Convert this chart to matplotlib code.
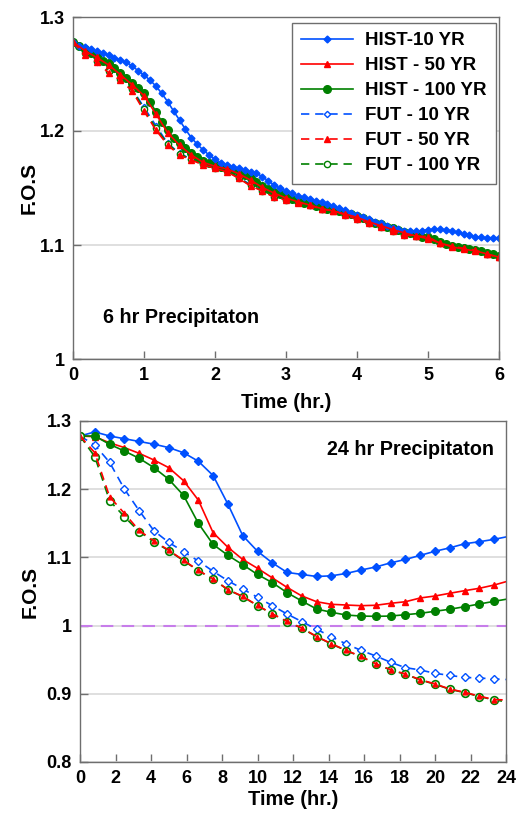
import matplotlib
matplotlib.use("Agg")
import matplotlib.pyplot as plt
import numpy as np
from matplotlib.ticker import FormatStrFormatter, MultipleLocator

plt.rcParams['font.family'] = ['Liberation Sans', 'DejaVu Sans']
plt.rcParams['font.weight'] = 'bold'

BLUE = '#0050ff'
RED = '#ff0000'
GREEN = '#008000'

labels = ['HIST-10 YR', 'HIST - 50 YR', 'HIST - 100 YR',
          'FUT - 10 YR', 'FUT - 50 YR', 'FUT - 100 YR']

# ---- 6 hr precipitation (5 min steps for HIST-10 / HIST-100, 10 min for the rest)
t6_fine = np.arange(73) / 12.0
t6 = np.arange(37) / 6.0

hist10_6 = [1.278, 1.2746, 1.2734, 1.2716, 1.2700, 1.2687, 1.2667, 1.2643, 1.2623, 1.2603,
            1.2570, 1.2529, 1.2491, 1.2447, 1.2395, 1.2330, 1.2257, 1.2175, 1.2096,
            1.2015, 1.1941, 1.1883, 1.1833, 1.1790, 1.1752,
            1.1722, 1.1702, 1.1687, 1.1673, 1.1658, 1.1643, 1.1629, 1.1600, 1.1561, 1.1526,
            1.1497, 1.1474, 1.1453, 1.1433, 1.1418, 1.1404, 1.1389, 1.1374, 1.1360, 1.1342,
            1.1322, 1.1307, 1.1282,
            1.1262, 1.1243, 1.1225, 1.1204, 1.1190, 1.1170, 1.1152, 1.1138, 1.1126, 1.1120,
            1.1123, 1.1126, 1.1132, 1.1138, 1.1138, 1.1132, 1.1123, 1.1111, 1.1096, 1.1085,
            1.1073, 1.1067, 1.1064, 1.1064, 1.1064]
hist100_6 = [1.2783, 1.2746, 1.2716, 1.2687, 1.2658, 1.2617, 1.2594, 1.2550, 1.2512, 1.2468,
             1.2424, 1.2374, 1.2330, 1.2257, 1.2170, 1.2082, 1.2009, 1.1936, 1.1892, 1.1848,
             1.1804, 1.1775, 1.1737, 1.1715, 1.1700,
             1.1688, 1.1676, 1.1658, 1.1638, 1.1614, 1.1585, 1.1550, 1.1518, 1.1489, 1.1468,
             1.1447, 1.1424, 1.1404, 1.1389, 1.1371, 1.1360, 1.1345, 1.1330, 1.1319, 1.1307,
             1.1296, 1.1283, 1.1270,
             1.1254, 1.1234, 1.1213, 1.1196, 1.1181, 1.1160, 1.1146, 1.1132, 1.1117, 1.1102,
             1.1088, 1.1073, 1.1064, 1.1050, 1.1029, 1.1009, 1.0991, 1.0980, 1.0971, 1.0962,
             1.0956, 1.0947, 1.0932, 1.0918, 1.0904]
hist50_6 = [1.278, 1.2705, 1.2645, 1.258, 1.2495, 1.2405, 1.231, 1.215, 1.1985, 1.1875,
            1.179, 1.1725, 1.169, 1.1668, 1.1625, 1.157, 1.1505, 1.1455, 1.1412, 1.138,
            1.135, 1.132, 1.1298, 1.1272, 1.1243, 1.1203, 1.117, 1.1136, 1.1106, 1.1078,
            1.1055, 1.1018, 1.0984, 1.0964, 1.0948, 1.0922, 1.0893]
fut10_6 = [1.278, 1.270, 1.2608, 1.2541, 1.2462, 1.2366, 1.2208, 1.2047, 1.1892, 1.1804,
           1.1752, 1.171, 1.168, 1.165, 1.1595, 1.1528, 1.148, 1.1425, 1.14, 1.1376,
           1.1355, 1.1318, 1.1305, 1.1268, 1.123, 1.1195, 1.1165, 1.1128, 1.1093, 1.1083,
           1.1076, 1.102, 1.0995, 1.0975, 1.096, 1.0922, 1.0895]
fut50_6 = [1.278, 1.2667, 1.2603, 1.2512, 1.2447, 1.2351, 1.2175, 1.2009, 1.1877, 1.1789,
           1.1746, 1.1702, 1.1673, 1.1643, 1.1585, 1.1518, 1.1474, 1.1418, 1.1395, 1.1371,
           1.1351, 1.1313, 1.1301, 1.1263, 1.1225, 1.119, 1.116, 1.1123, 1.1088, 1.1079,
           1.1073, 1.1015, 1.0991, 1.0971, 1.0956, 1.0918, 1.0892]
fut100_6 = [1.278, 1.268, 1.2615, 1.2525, 1.246, 1.2365, 1.219, 1.2025, 1.1888, 1.1798,
            1.1752, 1.1708, 1.1678, 1.1648, 1.159, 1.1522, 1.1478, 1.1422, 1.1398, 1.1374,
            1.1354, 1.1316, 1.1303, 1.1266, 1.1228, 1.1193, 1.1162, 1.1126, 1.109, 1.1081,
            1.1075, 1.1017, 1.0993, 1.0973, 1.0958, 1.092, 1.0894]

# ---- 24 hr precipitation (50 min steps, last value at 24 hr)
t24 = np.append(np.arange(29) * 50 / 60.0, 24.0)

hist10_24 = [1.278, 1.284, 1.278, 1.274, 1.270, 1.266, 1.261, 1.2535, 1.241, 1.220,
             1.178, 1.132, 1.109, 1.092, 1.078, 1.075, 1.072, 1.073, 1.0765, 1.0815,
             1.086, 1.092, 1.097, 1.103, 1.109, 1.114, 1.120, 1.123, 1.1265, 1.130]
hist50_24 = [1.278, 1.277, 1.268, 1.261, 1.2526, 1.2428, 1.2316, 1.2125, 1.184, 1.1362,
             1.1148, 1.097, 1.084, 1.070, 1.056, 1.0434, 1.035, 1.0312, 1.0302, 1.0292,
             1.0298, 1.0327, 1.035, 1.0405, 1.0434, 1.0474, 1.0512, 1.0547, 1.0595, 1.0644]
hist100_24 = [1.278, 1.278, 1.2658, 1.256, 1.2453, 1.2316, 1.2145, 1.191, 1.150, 1.119,
              1.103, 1.0893, 1.075, 1.063, 1.0483, 1.036, 1.0243, 1.0195, 1.0155, 1.014,
              1.0136, 1.014, 1.016, 1.018, 1.021, 1.024, 1.0277, 1.0317, 1.0356, 1.0386]
fut10_24 = [1.278, 1.2648, 1.2394, 1.2003, 1.1685, 1.139, 1.122, 1.1084, 1.0947, 1.0796,
            1.0658, 1.0537, 1.0415, 1.0292, 1.017, 1.0058, 0.9946, 0.9837, 0.973, 0.9637,
            0.9554, 0.9462, 0.9383, 0.935, 0.930, 0.927, 0.924, 0.9232, 0.9217, 0.921]
fut50_24 = [1.278, 1.2535, 1.189, 1.1646, 1.1395, 1.124, 1.1105, 1.0958, 1.081, 1.0684,
            1.0528, 1.0428, 1.0296, 1.0174, 1.0062, 0.9964, 0.984, 0.9734, 0.9636, 0.9548,
            0.9441, 0.9354, 0.929, 0.9207, 0.9145, 0.907, 0.9022, 0.8965, 0.8915, 0.891]
fut100_24 = [1.278, 1.2477, 1.1832, 1.1597, 1.1377, 1.123, 1.1098, 1.0952, 1.0805, 1.0679,
             1.0525, 1.0424, 1.0292, 1.017, 1.0058, 0.996, 0.9837, 0.973, 0.9632, 0.9544,
             0.9437, 0.935, 0.9286, 0.9203, 0.914, 0.9066, 0.9018, 0.896, 0.891, 0.8885]

DASH = (0, (5, 3.5))


def style_axes(ax, xmax, xstep, ymin, xpad, ypad):
    ax.set_xlim(0, xmax)
    ax.set_ylim(ymin, 1.3)
    ax.xaxis.set_major_locator(MultipleLocator(xstep))
    ax.yaxis.set_major_locator(MultipleLocator(0.1))
    ax.yaxis.set_major_formatter(FormatStrFormatter('%g'))
    ax.yaxis.grid(True, color='#d9d9d9', lw=1.2)
    ax.set_axisbelow(True)
    for s in ax.spines.values():
        s.set_color('#6e6e6e')
        s.set_linewidth(1.0)
    ax.tick_params(direction='in', length=6, width=1, color='#6e6e6e',
                   labelsize=13, pad=6)
    for lab in ax.get_xticklabels() + ax.get_yticklabels():
        lab.set_fontweight('bold')
    ax.set_xlabel('Time (hr.)', fontsize=14.5, fontweight='bold', labelpad=xpad)
    ax.set_ylabel('F.O.S', fontsize=15, fontweight='bold', labelpad=ypad)


fig = plt.figure(figsize=(5.19, 8.15), dpi=100)

# top panel
ax1 = fig.add_axes([73 / 519, 1 - 359 / 815, 426 / 519, 342 / 815])
h = {}
h[3] = ax1.plot(t6, fut10_6, color=BLUE, ls=DASH, lw=1.2, marker='D', ms=3.2,
                mfc='white', mec=BLUE, mew=1)[0]
h[5] = ax1.plot(t6, fut100_6, color=GREEN, ls=DASH, lw=1.2, marker='o', ms=4.5,
                mfc='white', mec=GREEN, mew=1)[0]
h[2] = ax1.plot(t6_fine, hist100_6, color=GREEN, lw=1.2, marker='o', ms=5.5)[0]
h[0] = ax1.plot(t6_fine, hist10_6, color=BLUE, lw=1.2, marker='D', ms=3.5)[0]
h[1] = ax1.plot(t6, hist50_6, color=RED, lw=1.2, marker='^', ms=4)[0]
h[4] = ax1.plot(t6, fut50_6, color=RED, ls=DASH, lw=1.2, marker='^', ms=4)[0]
style_axes(ax1, 6, 1, 1.0, 6, 1)
ax1.text(0.07, 0.12, '6 hr Precipitaton', transform=ax1.transAxes,
         fontsize=14.2, fontweight='bold', va='center', ha='left')
leg = ax1.legend([h[i] for i in range(6)], labels, loc='upper right',
                 bbox_to_anchor=(0.992, 0.983), borderaxespad=0, fancybox=False,
                 edgecolor='#6e6e6e', framealpha=1,
                 handlelength=2.8, handletextpad=0.6, labelspacing=0.42,
                 borderpad=0.5, prop={'weight': 'bold', 'size': 13.5})
leg.get_frame().set_linewidth(1.0)

# bottom panel
ax2 = fig.add_axes([80 / 519, 1 - 762 / 815, 426 / 519, 341 / 815])
ax2.axhline(1.0, color='#c77dea', lw=1.5, ls=(0, (6, 4)))
mk = slice(0, 29)
ax2.plot(t24, hist10_24, color=BLUE, lw=1.2, marker='D', ms=4, markevery=mk)
ax2.plot(t24, hist50_24, color=RED, lw=1.2, marker='^', ms=5, markevery=mk)
ax2.plot(t24, hist100_24, color=GREEN, lw=1.2, marker='o', ms=5.5, markevery=mk)
ax2.plot(t24, fut10_24, color=BLUE, ls=DASH, lw=1.2, marker='D', ms=4,
         mfc='white', mec=BLUE, mew=1, markevery=mk)
ax2.plot(t24, fut100_24, color=GREEN, ls=DASH, lw=1.2, marker='o', ms=5.5,
         mfc='white', mec=GREEN, mew=1.2, markevery=mk)
ax2.plot(t24, fut50_24, color=RED, ls=DASH, lw=1.2, marker='^', ms=3.5, markevery=mk)
style_axes(ax2, 24, 2, 0.8, 2, 5)
ax2.text(0.972, 0.915, '24 hr Precipitaton', transform=ax2.transAxes,
         fontsize=14.2, fontweight='bold', va='center', ha='right')

fig.savefig('out.png', dpi=100)
